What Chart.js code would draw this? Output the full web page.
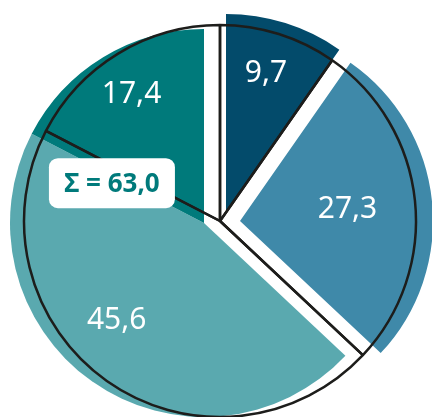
<!DOCTYPE html>
<html>
<head>
<meta charset="utf-8">
<script src="https://cdn.jsdelivr.net/npm/chart.js@4.4.1/dist/chart.umd.min.js"></script>
<style>
  body { margin: 0; background: #fff; overflow: hidden; }
  #wrap { position: relative; width: 432px; height: 417px; }
  #wrap canvas { position: absolute; left: 0; top: 0; }
</style>
</head>
<body>
<div id="wrap">
  <canvas id="leftPie" width="432" height="417"></canvas>
  <canvas id="navyPie" width="432" height="417"></canvas>
  <canvas id="bluePie" width="432" height="417"></canvas>
  <canvas id="outlinePie" width="432" height="417"></canvas>
</div>
<script>
// data, clockwise from 12 o'clock
const categories = ["Anteil 1", "Anteil 2", "Anteil 3", "Anteil 4"];
const shares = [9.7, 27.3, 45.6, 17.4];
const sumParts = [2, 3]; // slices added up in the box
const colors = ["#034b6b", "#3f89a9", "#5aa9af", "#007a7b"];

// where the value text sits inside its slice (share of the angle, share of the radius)
const labelAngle = [0.46, 0.5, 0.54, 0.53];
const labelRadius = [0.73, 0.56, 0.675, 0.76];

const W = 432;
const H = 417;

const fmt = (v) => v.toFixed(1).replace(".", ",");

const makeLayer = (id, cx, cy, radius, shown, dsExtra = {}, plugins = []) => {
  return new Chart(document.getElementById(id), {
    type: "pie",
    data: {
      labels: categories,
      datasets: [
        {
          data: shares,
          backgroundColor: colors.map((c, i) => (shown.includes(i) ? c : "rgba(0,0,0,0)")),
          borderWidth: 0,
          radius: radius,
          clip: false,
          ...dsExtra,
        },
      ],
    },
    options: {
      responsive: false,
      animation: false,
      events: [],
      layout: {
        padding: {
          left: Math.max(0, 2 * cx - W),
          right: Math.max(0, W - 2 * cx),
          top: Math.max(0, 2 * cy - H),
          bottom: Math.max(0, H - 2 * cy),
        },
      },
      plugins: {
        legend: { display: false },
        tooltip: { enabled: false },
      },
    },
    plugins: plugins,
  });
};

const leftPie = makeLayer("leftPie", 204, 223, 194, [2, 3]);
const navyPie = makeLayer("navyPie", 226, 212, 198, [0]);
const bluePie = makeLayer("bluePie", 240, 221, 193, [1]);
const layerFor = [navyPie, bluePie, leftPie, leftPie];

const roundBox = (ctx, x, y, w, h, r) => {
  ctx.beginPath();
  ctx.moveTo(x + r, y);
  ctx.arcTo(x + w, y, x + w, y + h, r);
  ctx.arcTo(x + w, y + h, x, y + h, r);
  ctx.arcTo(x, y + h, x, y, r);
  ctx.arcTo(x, y, x + w, y, r);
  ctx.closePath();
};

const textPlugin = {
  id: "texts",
  afterDatasetsDraw(chart) {
    const ctx = chart.ctx;
    ctx.save();
    ctx.textAlign = "center";
    ctx.textBaseline = "middle";
    ctx.fillStyle = "#ffffff";
    ctx.font = "30px 'Noto Sans'";
    shares.forEach((v, i) => {
      const arc = layerFor[i].getDatasetMeta(0).data[i];
      const a = arc.startAngle + (arc.endAngle - arc.startAngle) * labelAngle[i];
      const r = arc.outerRadius * labelRadius[i];
      ctx.fillText(fmt(v), arc.x + Math.cos(a) * r, arc.y + Math.sin(a) * r);
    });

    // sum box on the border between the two left slices
    const teal = leftPie.getDatasetMeta(0).data[3];
    const a = teal.startAngle - (4 * Math.PI) / 180;
    const r = teal.outerRadius * 0.517;
    const bx = teal.x + Math.cos(a) * r;
    const by = teal.y + Math.sin(a) * r;
    const total = sumParts.reduce((s, i) => s + shares[i], 0);
    ctx.fillStyle = "#ffffff";
    roundBox(ctx, bx - 63, by - 25, 126, 50, 9);
    ctx.fill();
    ctx.fillStyle = colors[3];
    ctx.font = "bold 26px 'Noto Sans'";
    ctx.fillText("\u03a3 = " + fmt(total), bx, by + 1.5);
    ctx.restore();
  },
};

const outlinePie = makeLayer(
  "outlinePie",
  220,
  221,
  196,
  [],
  { borderWidth: 2.5, borderColor: "#1d1d1b" },
  [textPlugin]
);
</script>
</body>
</html>
